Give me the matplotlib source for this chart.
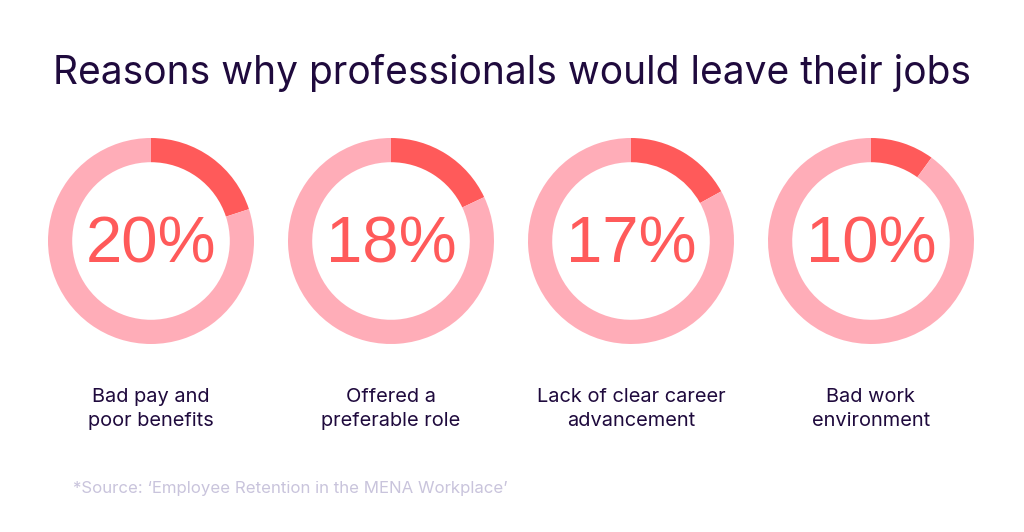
import matplotlib
matplotlib.use("Agg")
import matplotlib.pyplot as plt

# ================================================================
# DATA
# ================================================================

title = "Reasons why professionals would leave their jobs"
shares = [20, 18, 17, 10]
labels = ["Bad pay and\npoor benefits",
          "Offered a\npreferable role",
          "Lack of clear career\nadvancement",
          "Bad work\nenvironment"]
source = "*Source: \u2018Employee Retention in the MENA Workplace\u2019"

HIGHLIGHT = "#FF5A5A"
RING = "#FFADB8"
NAVY = "#1F0A3D"
SOURCE_COL = "#C9C4DC"

W, H = 1024, 532
fig = plt.figure(figsize=(W / 100, H / 100), dpi=100)
fig.patch.set_facecolor("white")

fig.text(0.5, 1 - 73 / H, title, ha="center", va="center",
         fontsize=28, color=NAVY, family=["Inter", "DejaVu Sans"])

# ================================================================
# DONUTS
# ================================================================

centers_x = [151, 391, 631, 871]
cy = 241
r = 103

for cx, val, lab in zip(centers_x, shares, labels):
    ax = fig.add_axes([(cx - r) / W, (H - cy - r) / H, 2 * r / W, 2 * r / H])
    ax.pie([val, 100 - val], colors=[HIGHLIGHT, RING], startangle=90,
           counterclock=False, radius=1.0,
           wedgeprops=dict(width=0.235, linewidth=0))
    ax.set_xlim(-1, 1)
    ax.set_ylim(-1, 1)
    ax.set_aspect("equal")
    ax.axis("off")
    ax.text(0, -0.04, f"{val}%", ha="center", va="center", fontsize=47,
            color=HIGHLIGHT, family=["Liberation Sans", "DejaVu Sans"])

    fig.text(cx / W, 1 - 409 / H, lab, ha="center", va="center",
             fontsize=14.4, color=NAVY, linespacing=1.5,
             family=["Inter", "DejaVu Sans"])

fig.text(73 / W, 1 - 489 / H, source, ha="left", va="center",
         fontsize=12.1, color=SOURCE_COL, family=["Inter", "DejaVu Sans"])

fig.savefig("out.png", dpi=100, facecolor="white")
